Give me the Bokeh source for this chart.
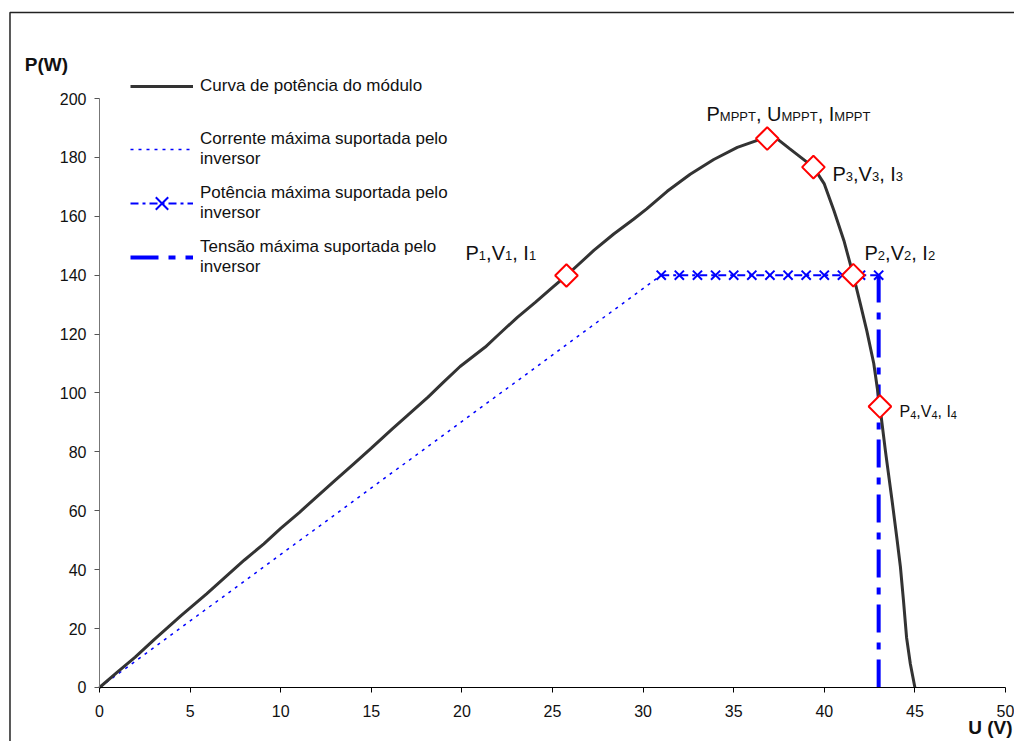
from bokeh.plotting import figure
from bokeh.models import Legend, LegendItem, Label, Range1d, FixedTicker, BoxAnnotation
from bokeh.embed import file_html
from bokeh.resources import INLINE

# ---- data ----
u_module = [0, 1, 1.97, 3, 4.5, 5.91, 7, 8, 9.07, 10, 11.04, 12, 13, 14,
            15, 16.16, 17, 18.13, 19, 19.9, 21.29, 22, 23.06, 24.05, 25, 25.77,
            27.28, 28.38, 29.49, 30.2, 31.33, 32.6, 33.9, 35.2, 36.3, 36.85, 37.4,
            38.1, 39.4, 40, 40.53, 41.08, 41.6, 42.0, 42.35, 42.73, 43.07, 43.38,
            43.75, 44.02, 44.2, 44.37, 44.54, 44.75, 45.0]
P_module = [0, 5.3, 10.3, 16.2, 24.4, 31.8, 37.8, 43.3, 48.8, 54.0, 59.5,
            64.8, 70.3, 75.8, 81.3, 87.8, 92.4, 98.6, 103.8, 109.0, 115.6, 119.7,
            125.7, 130.8, 135.9, 139.9, 148.4, 154.0, 159.1, 162.5, 168.5, 174.3,
            179.3, 183.4, 185.8, 186.4, 186.3, 182.9, 176.7, 171.0, 162.0, 151.8,
            140.0, 130.0, 121.0, 110.0, 95.4, 80.0, 63.0, 50.0, 41.0, 29.5, 17.0,
            8.0, 0]

u_corrente = [0, 31]
P_corrente = [0, 140]

u_potencia = [31, 32, 33, 34, 35, 36, 37, 38, 39, 40, 41, 42, 43]
P_potencia = [140] * 13

u_tensao = [43, 43]
P_tensao = [0, 140]

u_points = [25.77, 36.85, 39.4, 41.6, 43.07]
P_points = [139.9, 186.4, 176.7, 140.0, 95.4]

x_ticks = [0, 5, 10, 15, 20, 25, 30, 35, 40, 45, 50]
y_ticks = [0, 20, 40, 60, 80, 100, 120, 140, 160, 180, 200]

FONT = "Liberation Sans"

# the frame covers the whole canvas; axes are pinned at 0
p = figure(width=1014, height=741, output_backend="svg", toolbar_location=None,
           x_range=Range1d(-5.464, 50.497), y_range=Range1d(-18.34, 233.28),
           min_border=0)
p.outline_line_color = None
p.xgrid.visible = False
p.ygrid.visible = False
p.background_fill_color = "white"
p.border_fill_color = "white"

p.xaxis.fixed_location = 0
p.yaxis.fixed_location = 0
p.xaxis.bounds = (0, 50)
p.yaxis.bounds = (0, 200)
p.xaxis.ticker = FixedTicker(ticks=x_ticks)
p.yaxis.ticker = FixedTicker(ticks=y_ticks)
for ax in (p.xaxis, p.yaxis):
    ax.major_tick_in = 0
    ax.major_tick_out = 5
    ax.minor_tick_line_color = None
    ax.major_label_text_font = FONT
    ax.major_label_text_font_size = "16px"
    ax.major_label_text_color = "#111111"
p.xaxis.axis_line_color = "#000000"
p.xaxis.major_tick_line_color = "#000000"
p.xaxis.major_label_standoff = 13
p.yaxis.axis_line_color = "#777777"
p.yaxis.major_tick_line_color = "#555555"
p.yaxis.major_label_standoff = 8

# outer chart border (top and left visible)
p.add_layout(BoxAnnotation(left=-4.94, top=229.2, right=60, bottom=-60,
                           fill_alpha=0, line_color="#222222", line_alpha=1.0,
                           line_width=1.5, level="overlay"))

# ---- series ----
r_corr = p.line(u_corrente, P_corrente, line_color="#0000ff", line_width=1.5,
                line_dash="3 5")
r_pot = p.line(u_potencia, P_potencia, line_color="#0000ff", line_width=2,
               line_dash="8 4 3 4")
r_pot_m = p.scatter(u_potencia, P_potencia, marker="x", size=13,
                    line_color="#0000ff", line_width=2)
r_ten = p.line(u_tensao, P_tensao, line_color="#0000ff", line_width=4,
               line_dash="28 10 7 10")
r_curve = p.line(u_module, P_module, line_color="#333333", line_width=3)
p.scatter(u_points, P_points, marker="square", angle=0.785398, size=16,
          line_color="#ff0000", line_width=2, fill_color="white")

# ---- legends ----
leg1 = Legend(items=[LegendItem(label="Curva de potência do módulo", renderers=[r_curve])],
              location=(130, 645))
leg2 = Legend(items=[
    LegendItem(label="Corrente máxima suportada pelo\ninversor", renderers=[r_corr]),
    LegendItem(label="Potência máxima suportada pelo\ninversor", renderers=[r_pot, r_pot_m]),
    LegendItem(label="Tensão máxima suportada pelo\ninversor", renderers=[r_ten]),
], location=(130, 462))
for lg in (leg1, leg2):
    lg.border_line_color = None
    lg.background_fill_alpha = 0
    lg.margin = 0
    lg.padding = 0
    lg.label_text_font = FONT
    lg.label_text_font_size = "17px"
    lg.label_text_color = "#111111"
    lg.label_text_line_height = 1.3
    lg.glyph_width = 63
    lg.label_standoff = 7
    lg.spacing = 10
leg2.label_height = 44
leg2.glyph_height = 44
p.add_layout(leg1)
p.add_layout(leg2)

# ---- axis titles ----
p.add_layout(Label(x=-4.12, y=211.4, text="P(W)", text_font=FONT, text_font_size="19px",
                   text_font_style="bold", text_baseline="middle", text_color="#111111"))
p.add_layout(Label(x=50.39, y=-13.6, text="U (V)", text_font=FONT, text_font_size="19px",
                   text_font_style="bold", text_baseline="middle", text_align="right",
                   text_color="#111111"))

# ---- point labels with subscripts ----
W = {"P": .667, "V": .667, "I": .278, "U": .722, "M": .833, "T": .611,
     ",": .278, " ": .278, "1": .556, "2": .556, "3": .556, "4": .556}


def rich_label(x, y, segments, size, sub_size):
    off = 0.0
    for txt, sub in segments:
        fs = sub_size if sub else size
        p.add_layout(Label(x=x, y=y, x_offset=off, y_offset=-3 if sub else 0,
                           text=txt, text_font=FONT, text_font_size=f"{fs}px",
                           text_color="#111111", text_baseline="alphabetic"))
        off += sum(W[c] for c in txt) * fs


def idx_segments(n):
    return [("P", False), (n, True), (",V", False), (n, True), (", I", False), (n, True)]


rich_label(20.20, 147.7, idx_segments("1"), 20, 13)
rich_label(33.5, 194.9, [("P", False), ("MPPT", True), (", U", False), ("MPPT", True),
                         (", I", False), ("MPPT", True)], 20, 13)
rich_label(40.45, 174.5, idx_segments("3"), 20, 13)
rich_label(42.22, 147.7, idx_segments("2"), 20, 13)
rich_label(44.15, 93.7, idx_segments("4"), 16, 11)

open("out.html", "w").write(file_html(p, INLINE))
